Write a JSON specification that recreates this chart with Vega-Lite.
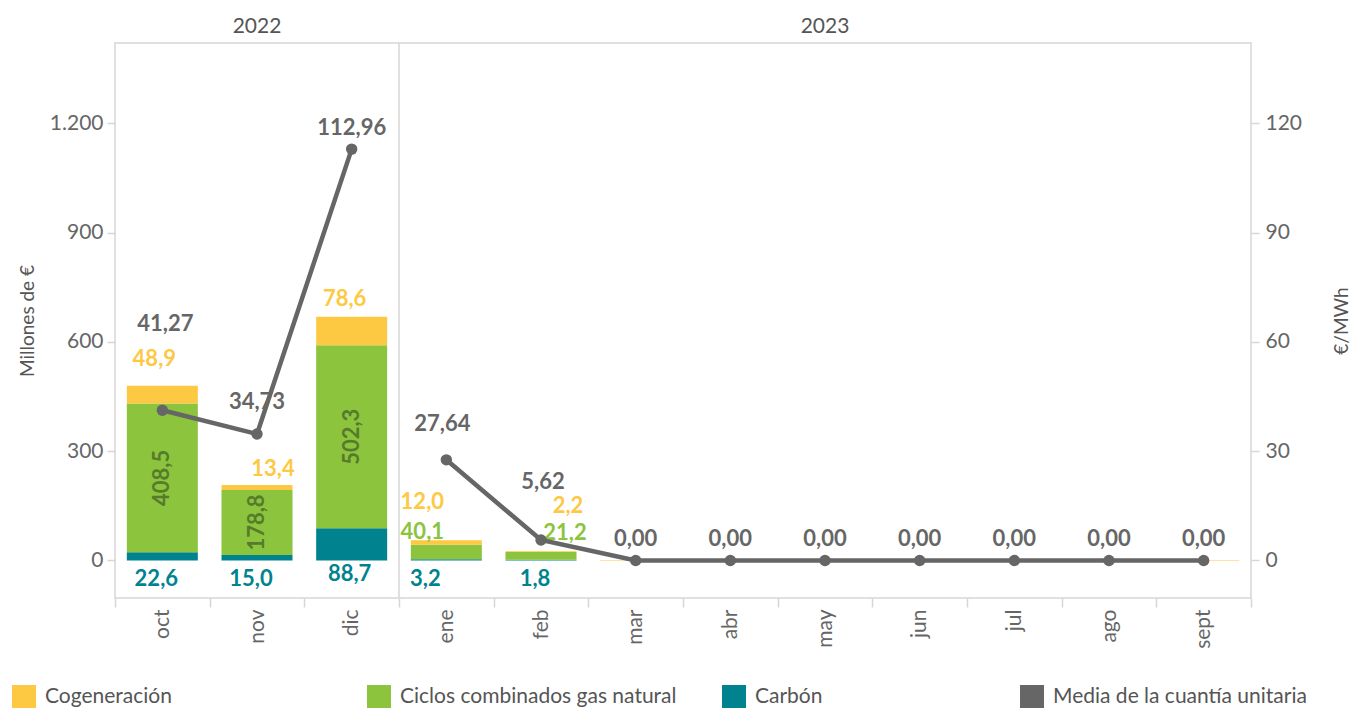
{
  "$schema": "https://vega.github.io/schema/vega-lite/v6.json",
  "width": 1136,
  "height": 555,
  "autosize": "none",
  "padding": {"left": 115, "top": 43, "right": 116, "bottom": 110},
  "background": "white",
  "config": {
    "locale": {"number": {"decimal": ",", "thousands": ".", "grouping": [3], "currency": ["", " €"]}},
    "font": "Lato",
    "view": {"stroke": "#d6d6d6", "strokeWidth": 1.5},
    "axis": {"labelFont": "Lato", "titleFont": "Lato", "labelColor": "#666666", "titleColor": "#555555", "labelFontSize": 21, "titleFontSize": 19, "titleFontWeight": "normal", "grid": false, "domain": false, "tickColor": "#d6d6d6", "tickWidth": 1.5},
    "legend": {"labelFont": "Lato", "labelFontSize": 21, "labelColor": "#555555", "labelLimit": 500, "symbolType": "square", "symbolSize": 576, "symbolStrokeWidth": 0, "labelOffset": 9, "padding": 0, "direction": "horizontal", "orient": "none"},
    "text": {"font": "Lato", "fontWeight": "bold", "fontSize": 22, "baseline": "middle", "align": "center"}
  },
  "datasets": {
    "fuentes": [
      {"anio": "2022", "mes": "oct", "fuente": "Carbón", "valor": 22.6},
      {"anio": "2022", "mes": "oct", "fuente": "Ciclos combinados gas natural", "valor": 408.5},
      {"anio": "2022", "mes": "oct", "fuente": "Cogeneración", "valor": 48.9},
      {"anio": "2022", "mes": "nov", "fuente": "Carbón", "valor": 15.0},
      {"anio": "2022", "mes": "nov", "fuente": "Ciclos combinados gas natural", "valor": 178.8},
      {"anio": "2022", "mes": "nov", "fuente": "Cogeneración", "valor": 13.4},
      {"anio": "2022", "mes": "dic", "fuente": "Carbón", "valor": 88.7},
      {"anio": "2022", "mes": "dic", "fuente": "Ciclos combinados gas natural", "valor": 502.3},
      {"anio": "2022", "mes": "dic", "fuente": "Cogeneración", "valor": 78.6},
      {"anio": "2023", "mes": "ene", "fuente": "Carbón", "valor": 3.2},
      {"anio": "2023", "mes": "ene", "fuente": "Ciclos combinados gas natural", "valor": 40.1},
      {"anio": "2023", "mes": "ene", "fuente": "Cogeneración", "valor": 12.0},
      {"anio": "2023", "mes": "feb", "fuente": "Carbón", "valor": 1.8},
      {"anio": "2023", "mes": "feb", "fuente": "Ciclos combinados gas natural", "valor": 21.2},
      {"anio": "2023", "mes": "feb", "fuente": "Cogeneración", "valor": 2.2},
      {"anio": "2023", "mes": "mar", "fuente": "Cogeneración", "valor": 1.5},
      {"anio": "2023", "mes": "abr", "fuente": "Cogeneración", "valor": 1.5},
      {"anio": "2023", "mes": "may", "fuente": "Cogeneración", "valor": 1.5},
      {"anio": "2023", "mes": "jun", "fuente": "Cogeneración", "valor": 1.5},
      {"anio": "2023", "mes": "jul", "fuente": "Cogeneración", "valor": 1.5},
      {"anio": "2023", "mes": "ago", "fuente": "Cogeneración", "valor": 1.5},
      {"anio": "2023", "mes": "sept", "fuente": "Cogeneración", "valor": 1.5}
    ],
    "media": [
      {"anio": "2022", "mes": "oct", "media": 41.27},
      {"anio": "2022", "mes": "nov", "media": 34.73},
      {"anio": "2022", "mes": "dic", "media": 112.96},
      {"anio": "2023", "mes": "ene", "media": 27.64},
      {"anio": "2023", "mes": "feb", "media": 5.62},
      {"anio": "2023", "mes": "mar", "media": 0},
      {"anio": "2023", "mes": "abr", "media": 0},
      {"anio": "2023", "mes": "may", "media": 0},
      {"anio": "2023", "mes": "jun", "media": 0},
      {"anio": "2023", "mes": "jul", "media": 0},
      {"anio": "2023", "mes": "ago", "media": 0},
      {"anio": "2023", "mes": "sept", "media": 0}
    ]
  },
  "layer": [
    {
      "data": {"name": "fuentes"},
      "encoding": {
        "x": {
          "field": "mes", "type": "ordinal",
          "scale": {"domain": ["oct", "nov", "dic", "ene", "feb", "mar", "abr", "may", "jun", "jul", "ago", "sept"], "paddingInner": 0, "paddingOuter": 0},
          "axis": {"orient": "bottom", "title": null, "labelAngle": -90, "tickBand": "extent", "tickSize": 9, "labelPadding": 2}
        }
      },
      "layer": [
        {
          "mark": {"type": "bar", "width": {"band": 0.75}},
          "encoding": {
            "y": {"field": "valor", "type": "quantitative", "stack": "zero",
                  "scale": {"domain": [-103, 1421], "nice": false, "zero": false},
                  "axis": {"orient": "left", "values": [0, 300, 600, 900, 1200], "format": ",.0f", "title": "Millones de €", "tickSize": 8, "labelPadding": 4, "titlePadding": 12}},
            "color": {"field": "fuente", "type": "nominal",
                      "scale": {"domain": ["Cogeneración", "Ciclos combinados gas natural", "Carbón"], "range": ["#FDC943", "#8CC43E", "#00838F"]},
                      "legend": {"title": null, "legendX": -103, "legendY": 642, "columns": 3, "gridAlign": "all", "columnPadding": 45}},
            "order": {"field": "fuente", "sort": "ascending"}
          }
        },
        {
          "data": {"values": [{}]},
          "mark": {"type": "rule", "color": "#555555", "strokeDash": [3, 2], "strokeWidth": 1},
          "encoding": {"y": {"datum": 0}}
        },
        {
          "data": {"values": [{}]},
          "mark": {"type": "rule", "color": "#d6d6d6", "strokeWidth": 1.5},
          "encoding": {"x": {"datum": "dic", "bandPosition": 1}}
        },
        {
          "transform": [{"filter": "datum.mes == 'oct'"}],
          "mark": {"type": "text", "dx": -8, "dy": -27, "color": "#FDC943"},
          "encoding": {
            "y": {"field": "valor", "type": "quantitative", "stack": "zero"},
            "detail": {"field": "fuente"}, "order": {"field": "fuente", "sort": "ascending"},
            "text": {"condition": {"test": "datum.fuente == 'Cogeneración'", "field": "valor", "type": "quantitative", "format": ",.1f"}, "value": ""}
          }
        },
        {
          "transform": [{"filter": "datum.mes == 'nov'"}],
          "mark": {"type": "text", "dx": 16, "dy": -16, "color": "#FDC943"},
          "encoding": {
            "y": {"field": "valor", "type": "quantitative", "stack": "zero"},
            "detail": {"field": "fuente"}, "order": {"field": "fuente", "sort": "ascending"},
            "text": {"condition": {"test": "datum.fuente == 'Cogeneración'", "field": "valor", "type": "quantitative", "format": ",.1f"}, "value": ""}
          }
        },
        {
          "transform": [{"filter": "datum.mes == 'dic'"}],
          "mark": {"type": "text", "dx": -7, "dy": -18, "color": "#FDC943"},
          "encoding": {
            "y": {"field": "valor", "type": "quantitative", "stack": "zero"},
            "detail": {"field": "fuente"}, "order": {"field": "fuente", "sort": "ascending"},
            "text": {"condition": {"test": "datum.fuente == 'Cogeneración'", "field": "valor", "type": "quantitative", "format": ",.1f"}, "value": ""}
          }
        },
        {
          "transform": [{"filter": "datum.mes == 'ene'"}],
          "mark": {"type": "text", "dx": -24, "dy": -38, "color": "#FDC943"},
          "encoding": {
            "y": {"field": "valor", "type": "quantitative", "stack": "zero"},
            "detail": {"field": "fuente"}, "order": {"field": "fuente", "sort": "ascending"},
            "text": {"condition": {"test": "datum.fuente == 'Cogeneración'", "field": "valor", "type": "quantitative", "format": ",.1f"}, "value": ""}
          }
        },
        {
          "transform": [{"filter": "datum.mes == 'feb'"}],
          "mark": {"type": "text", "dx": 27, "dy": -45, "color": "#FDC943"},
          "encoding": {
            "y": {"field": "valor", "type": "quantitative", "stack": "zero"},
            "detail": {"field": "fuente"}, "order": {"field": "fuente", "sort": "ascending"},
            "text": {"condition": {"test": "datum.fuente == 'Cogeneración'", "field": "valor", "type": "quantitative", "format": ",.1f"}, "value": ""}
          }
        },
        {
          "transform": [{"filter": {"field": "mes", "oneOf": ["oct", "nov", "dic"]}}],
          "mark": {"type": "text", "angle": 270, "color": "#557B2B"},
          "encoding": {
            "y": {"field": "valor", "type": "quantitative", "stack": "zero", "bandPosition": 0.5},
            "detail": {"field": "fuente"}, "order": {"field": "fuente", "sort": "ascending"},
            "text": {"condition": {"test": "datum.fuente == 'Ciclos combinados gas natural'", "field": "valor", "type": "quantitative", "format": ",.1f"}, "value": ""}
          }
        },
        {
          "transform": [{"filter": "datum.mes == 'ene'"}],
          "mark": {"type": "text", "dx": -24, "dy": -13, "color": "#8CC43E"},
          "encoding": {
            "y": {"field": "valor", "type": "quantitative", "stack": "zero"},
            "detail": {"field": "fuente"}, "order": {"field": "fuente", "sort": "ascending"},
            "text": {"condition": {"test": "datum.fuente == 'Ciclos combinados gas natural'", "field": "valor", "type": "quantitative", "format": ",.1f"}, "value": ""}
          }
        },
        {
          "transform": [{"filter": "datum.mes == 'feb'"}],
          "mark": {"type": "text", "dx": 24, "dy": -19, "color": "#8CC43E"},
          "encoding": {
            "y": {"field": "valor", "type": "quantitative", "stack": "zero"},
            "detail": {"field": "fuente"}, "order": {"field": "fuente", "sort": "ascending"},
            "text": {"condition": {"test": "datum.fuente == 'Ciclos combinados gas natural'", "field": "valor", "type": "quantitative", "format": ",.1f"}, "value": ""}
          }
        },
        {
          "transform": [{"filter": "datum.fuente == 'Carbón' && (datum.mes == 'oct' || datum.mes == 'nov' || datum.mes == 'feb')"}],
          "mark": {"type": "text", "dx": -6, "dy": 19, "color": "#00838F"},
          "encoding": {"y": {"datum": 0}, "text": {"field": "valor", "type": "quantitative", "format": ",.1f"}}
        },
        {
          "transform": [{"filter": "datum.fuente == 'Carbón' && datum.mes == 'dic'"}],
          "mark": {"type": "text", "dx": -2, "dy": 14, "color": "#00838F"},
          "encoding": {"y": {"datum": 0}, "text": {"field": "valor", "type": "quantitative", "format": ",.1f"}}
        },
        {
          "transform": [{"filter": "datum.fuente == 'Carbón' && datum.mes == 'ene'"}],
          "mark": {"type": "text", "dx": -21, "dy": 19, "color": "#00838F"},
          "encoding": {"y": {"datum": 0}, "text": {"field": "valor", "type": "quantitative", "format": ",.1f"}}
        }
      ]
    },
    {
      "data": {"name": "media"},
      "encoding": {
        "x": {
          "field": "mes", "type": "ordinal",
          "scale": {"domain": ["oct", "nov", "dic", "ene", "feb", "mar", "abr", "may", "jun", "jul", "ago", "sept"], "paddingInner": 0, "paddingOuter": 0},
          "axis": {"orient": "top", "title": null, "values": ["nov", "may"], "labelExpr": "datum.value == 'nov' ? '2022' : '2023'", "labelAngle": 0, "ticks": false, "labelPadding": 7, "labelColor": "#555555"}
        },
        "y": {"field": "media", "type": "quantitative",
              "scale": {"domain": [-10.3, 142.1], "nice": false, "zero": false},
              "axis": {"orient": "right", "values": [0, 30, 60, 90, 120], "format": ",.0f", "title": "€/MWh", "titleAngle": 270, "tickSize": 8, "labelPadding": 6, "titlePadding": 50}}
      },
      "layer": [
        {
          "mark": {"type": "line", "color": "#666666", "strokeWidth": 4.5},
          "encoding": {"detail": {"field": "anio"}}
        },
        {
          "mark": {"type": "circle", "size": 130, "opacity": 1},
          "encoding": {
            "fill": {"datum": "Media de la cuantía unitaria", "type": "nominal", "scale": {"range": ["#666666"]},
                     "legend": {"title": null, "legendX": 905, "legendY": 642}}
          }
        },
        {
          "transform": [{"filter": "datum.mes == 'oct'"}],
          "mark": {"type": "text", "dx": 3, "dy": -86, "color": "#666666"},
          "encoding": {"text": {"field": "media", "type": "quantitative", "format": ",.2f"}}
        },
        {
          "transform": [{"filter": "datum.mes == 'nov'"}],
          "mark": {"type": "text", "dy": -32, "color": "#666666"},
          "encoding": {"text": {"field": "media", "type": "quantitative", "format": ",.2f"}}
        },
        {
          "transform": [{"filter": "datum.mes == 'dic'"}],
          "mark": {"type": "text", "dy": -21, "color": "#666666"},
          "encoding": {"text": {"field": "media", "type": "quantitative", "format": ",.2f"}}
        },
        {
          "transform": [{"filter": "datum.mes == 'ene'"}],
          "mark": {"type": "text", "dx": -4, "dy": -36, "color": "#666666"},
          "encoding": {"text": {"field": "media", "type": "quantitative", "format": ",.2f"}}
        },
        {
          "transform": [{"filter": "datum.mes == 'feb'"}],
          "mark": {"type": "text", "dx": 2, "dy": -58, "color": "#666666"},
          "encoding": {"text": {"field": "media", "type": "quantitative", "format": ",.2f"}}
        },
        {
          "transform": [{"filter": {"field": "mes", "oneOf": ["mar", "abr", "may", "jun", "jul", "ago", "sept"]}}],
          "mark": {"type": "text", "dy": -21, "color": "#666666"},
          "encoding": {"text": {"field": "media", "type": "quantitative", "format": ",.2f"}}
        }
      ]
    }
  ],
  "resolve": {"scale": {"y": "independent"}, "axis": {"x": "independent"}}
}
